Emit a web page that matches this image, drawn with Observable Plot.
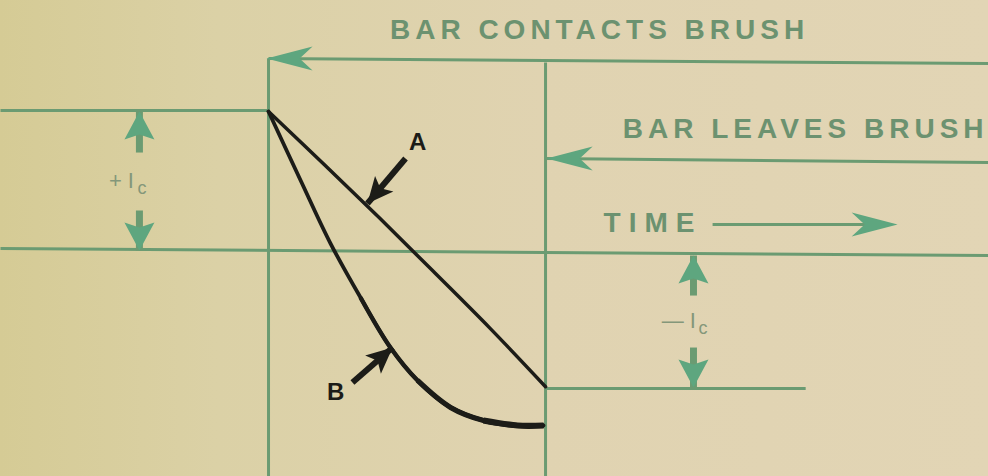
<!DOCTYPE html>
<html><head><meta charset="utf-8">
<script src="https://cdn.jsdelivr.net/npm/d3@7"></script>
<script src="https://cdn.jsdelivr.net/npm/@observablehq/plot@0.6"></script>
<style>html,body{margin:0;padding:0;background:#dfd3ae;overflow:hidden}</style>
</head><body><div id="chart"></div>
<script>
// Units: time t (0 = bar contacts brush, 1 = bar leaves brush); current i in units of Ic
const timeExtent = [-0.9675, 2.599];
const currentExtent = [-1.626, 1.799];

// Curve A (linear commutation) and curve B (under-commutation)
const curveATime = [0, 0.2, 0.4, 0.6, 0.8, 1.0];
const curveACurrent = [1.0, 0.62, 0.235, -0.16, -0.56, -0.98];
const curveBTime = [0, 0.116, 0.224, 0.332, 0.44, 0.538, 0.657, 0.776, 0.899, 0.993];
const curveBCurrent = [1.0, 0.504, 0.05, -0.338, -0.698, -0.935, -1.129, -1.223, -1.259, -1.259];

// Green guide lines: contact, leave, top, +Ic, zero, leaves, -Ic, time shaft
const guideT1 = [0, 1, 0, -0.9675, -0.9675, 1, 1, 1.603];
const guideI1 = [1.381, 1.353, 1.381, 1.007, 0.014, 0.662, -0.993, 0.187];
const guideT2 = [0, 1, 2.599, 0, 2.599, 2.599, 1.939, 2.2];
const guideI2 = [-1.626, -1.626, 1.345, 1.007, -0.036, 0.633, -0.993, 0.187];

// Double-arrow shafts for +Ic and -Ic
const dimT = [-0.466, -0.466, 1.534, 1.534];
const dimI1 = [1.0, 0.0, -0.036, -0.986];
const dimI2 = [0.705, 0.288, -0.324, -0.698];

// Green arrowheads: tip position and direction
const headT = [-0.007, 1.004, 2.271, -0.466, -0.466, 1.534, 1.534];
const headI = [1.381, 0.662, 0.187, 1.0, 0.0, -0.036, -0.986];
const headDir = ["left", "left", "right", "up", "down", "up", "down"];
const headKind = ["long", "long", "long", "short", "short", "short", "short"];

// Black pointer arrows A and B (tail → tip)
const pointerLabels = ["A", "B"];
const pointerTailT = [0.4946, 0.303];
const pointerTailI = [0.662, -0.950];
const pointerTipT = [0.357, 0.448];
const pointerTipI = [0.338, -0.698];
const pointerLabelT = [0.538, 0.242];
const pointerLabelI = [0.777, -1.022];

// Green captions
const captions = ["BAR CONTACTS BRUSH", "BAR LEAVES BRUSH", "TIME"];
const captionT = [1.195, 1.939, 1.388];
const captionI = [1.590, 0.871, 0.198];

// Ic labels (main + subscript)
const icMain = ["+ I", "\u2014 I"];
const icMainT = [-0.531, 1.481];
const icMainI = [0.504, -0.504];
const icSubT = [-0.457, 1.568];
const icSubI = [0.450, -0.561];

const W = 988, H = 476;
const xs = d3.scaleLinear(timeExtent, [0, W]);
const ys = d3.scaleLinear(currentExtent, [H, 0]);

function head(angleDeg, L, Wd, N) {
  const a = angleDeg * Math.PI / 180, c = Math.cos(a), s = Math.sin(a);
  const pts = [[0,0],[Wd,L],[0,L-N],[-Wd,L]].map(([x,y]) => [x*c - y*s, x*s + y*c]);
  return {draw(ctx) { ctx.moveTo(pts[0][0], pts[0][1]); for (let k = 1; k < pts.length; k++) ctx.lineTo(pts[k][0], pts[k][1]); ctx.closePath(); }};
}
const dirAngle = {up: 0, right: 90, down: 180, left: -90};
const kindDims = {long: [46, 12, 13], short: [28, 15, 5]};

const lineColor = "#6b9b72";
const headColor = "#5ea67f";
const textColor = "#6c9270";
const labelColor = "#84977a";
const ink = "#1c1c18";
const font = "Liberation Sans, Arial, sans-serif";

const idx = n => d3.range(n);

const marks = [];
marks.push(Plot.link(idx(guideT1.length), {
  x1: i => guideT1[i], y1: i => guideI1[i], x2: i => guideT2[i], y2: i => guideI2[i],
  stroke: lineColor, strokeWidth: 3, strokeLinecap: "butt"
}));
marks.push(Plot.link(idx(dimT.length), {
  x1: i => dimT[i], y1: i => dimI1[i], x2: i => dimT[i], y2: i => dimI2[i],
  stroke: lineColor, strokeWidth: 7, strokeLinecap: "butt"
}));
headT.forEach((t, i) => {
  const [L, Wd, N] = kindDims[headKind[i]];
  marks.push(Plot.dot([i], {x: j => headT[j], y: j => headI[j], r: 1,
    symbol: head(dirAngle[headDir[i]], L, Wd, N), fill: headColor, stroke: "none"}));
});
marks.push(Plot.line(idx(curveATime.length), {x: i => curveATime[i], y: i => curveACurrent[i],
  curve: "catmull-rom", stroke: ink, strokeWidth: 3.5}));
// curve B thickens toward its end, drawn as overlapping strokes of growing width
[[0, 3.8], [3, 4.4], [5, 5.2], [7, 6.2]].forEach(([start, w]) => {
  marks.push(Plot.line(idx(curveBTime.length).slice(start), {x: i => curveBTime[i], y: i => curveBCurrent[i],
    curve: "catmull-rom", stroke: ink, strokeWidth: w, strokeLinecap: start ? "butt" : "round"}));
});
marks.push(Plot.link(idx(2), {x1: i => pointerTailT[i], y1: i => pointerTailI[i],
  x2: i => pointerTipT[i], y2: i => pointerTipI[i], stroke: ink, strokeWidth: 6, strokeLinecap: "butt"}));
pointerLabels.forEach((lab, i) => {
  const dx = xs(pointerTipT[i]) - xs(pointerTailT[i]);
  const dy = ys(pointerTipI[i]) - ys(pointerTailI[i]);
  const ang = Math.atan2(dx, -dy) * 180 / Math.PI;
  marks.push(Plot.dot([i], {x: j => pointerTipT[j], y: j => pointerTipI[j], r: 1,
    symbol: head(ang, 26, 12, 6), fill: ink, stroke: "none"}));
});
marks.push(Plot.text(idx(2), {x: i => pointerLabelT[i], y: i => pointerLabelI[i], text: i => pointerLabels[i],
  fontSize: 24, fontWeight: "bold", fontFamily: font, fill: ink}));
marks.push(Plot.text(idx(captions.length), {x: i => captionT[i], y: i => captionI[i], text: i => captions[i],
  fontSize: 28, fontWeight: "bold", fontFamily: font, fill: textColor}));
marks.push(Plot.text(idx(2), {x: i => icMainT[i], y: i => icMainI[i], text: i => icMain[i],
  fontSize: 22, fontFamily: font, fill: labelColor}));
marks.push(Plot.text(idx(2), {x: i => icSubT[i], y: i => icSubI[i], text: () => "c",
  fontSize: 18, fontFamily: font, fill: labelColor}));

const svg = Plot.plot({
  width: W, height: H, margin: 0,
  x: {domain: timeExtent, range: [0, W], axis: null},
  y: {domain: currentExtent, range: [H, 0], axis: null},
  style: {background: "linear-gradient(to right, #d5cb95 0%, #dbd1a6 22%, #e0d3b1 55%, #e2d5b5 100%)", overflow: "visible"},
  marks
});
d3.select(svg).selectAll("text").each(function() {
  const t = this.textContent;
  if (t.includes("BRUSH")) this.setAttribute("letter-spacing", "5");
  else if (t === "TIME") this.setAttribute("letter-spacing", "8");
});
document.getElementById("chart").appendChild(svg);
</script>
</body></html>
